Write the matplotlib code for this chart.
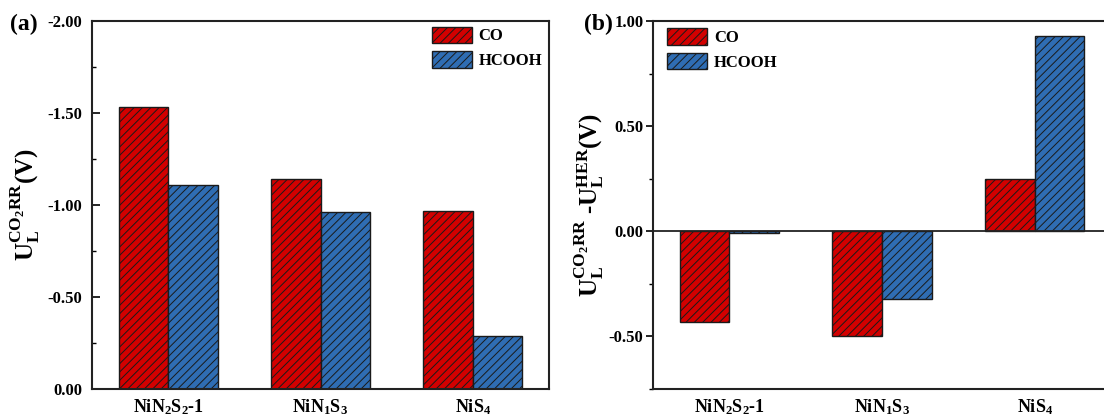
import matplotlib
matplotlib.use("Agg")
import matplotlib.pyplot as plt
import numpy as np
from matplotlib.ticker import MultipleLocator, FormatStrFormatter
from matplotlib.patches import Patch

plt.rcParams['font.family'] = ['Liberation Serif', 'DejaVu Serif']
plt.rcParams['font.weight'] = 'bold'
plt.rcParams['axes.unicode_minus'] = False
plt.rcParams['mathtext.fontset'] = 'custom'
plt.rcParams['mathtext.rm'] = 'Liberation Serif:bold'
plt.rcParams['mathtext.it'] = 'Liberation Serif:bold'
plt.rcParams['mathtext.bf'] = 'Liberation Serif:bold'
plt.rcParams['hatch.linewidth'] = 0.7

categories = [r'NiN$_2$S$_2$-1', r'NiN$_1$S$_3$', r'NiS$_4$']
series_names = ['CO', 'HCOOH']
ul_co = [-1.53, -1.14, -0.97]
ul_hcooh = [-1.11, -0.96, -0.29]
diff_co = [-0.43, -0.50, 0.25]
diff_hcooh = [-0.01, -0.32, 0.93]

red = '#D30000'
blue = '#2F6DB3'
edge = '#1a1a1a'

W, H = 1104, 419
fig = plt.figure(figsize=(W / 100, H / 100), dpi=100)

def px_axes(x0, x1, y0, y1):
    return fig.add_axes([x0 / W, 1 - y1 / H, (x1 - x0) / W, (y1 - y0) / H])

ax1 = px_axes(92, 549, 21, 389)
ax2 = px_axes(653, 1111, 21, 389)

x = np.arange(len(categories))
bw = 0.325

def draw(ax, v1, v2):
    ax.bar(x - bw / 2, v1, bw, color=red, edgecolor=edge, linewidth=1.0, hatch='////')
    ax.bar(x + bw / 2, v2, bw, color=blue, edgecolor=edge, linewidth=1.0, hatch='////')
    ax.set_xlim(-0.5, 2.5)
    ax.set_xticks(x)
    ax.set_xticklabels(categories, fontsize=13, fontweight='bold')
    ax.tick_params(axis='x', length=0, pad=6)
    ax.yaxis.set_major_formatter(FormatStrFormatter('%.2f'))
    for s in ax.spines.values():
        s.set_linewidth(1.5)
        s.set_color('#222222')

# Panel (a)
draw(ax1, ul_co, ul_hcooh)
ax1.set_ylim(0, -2.0)
ax1.yaxis.set_major_locator(MultipleLocator(0.5))
ax1.yaxis.set_minor_locator(MultipleLocator(0.25))
ax1.tick_params(axis='y', which='major', direction='in', length=6, width=1.2, labelsize=12, pad=7)
ax1.tick_params(axis='y', which='minor', direction='in', length=3, width=1.0)
ax1.set_ylabel(r'$\mathrm{U_L^{CO_2RR}}$(V)', fontsize=18, fontweight='bold', labelpad=4)

# Panel (b)
draw(ax2, diff_co, diff_hcooh)
ax2.set_ylim(-0.75, 1.0)
ax2.axhline(0, color='#222222', linewidth=1.3)
ax2.yaxis.set_major_locator(MultipleLocator(0.5))
ax2.yaxis.set_minor_locator(MultipleLocator(0.25))
ax2.tick_params(axis='y', which='major', direction='out', length=5, width=1.2, labelsize=12, pad=2)
ax2.tick_params(axis='y', which='minor', direction='out', length=3, width=1.0)
ax2.set_ylabel(r'$\mathrm{U_L^{CO_2RR}}$ -$\mathrm{U_L^{HER}}$(V)', fontsize=18, fontweight='bold', labelpad=2)

for ax in (ax1, ax2):
    for lab in ax.get_yticklabels():
        lab.set_fontweight('bold')

handles = [Patch(facecolor=red, edgecolor=edge, hatch='////', linewidth=1.0),
           Patch(facecolor=blue, edgecolor=edge, hatch='////', linewidth=1.0)]
leg_kw = dict(frameon=False, handlelength=2.4, handleheight=1.15,
              labelspacing=0.4, handletextpad=0.4, borderpad=0, borderaxespad=0,
              prop={'weight': 'bold', 'size': 12})
ax1.legend(handles, series_names, loc='upper left', bbox_to_anchor=(0.744, 0.985), **leg_kw)
ax2.legend(handles, series_names, loc='upper left', bbox_to_anchor=(0.031, 0.98), **leg_kw)

fig.text(10 / W, 1 - 30 / H, '(a)', fontsize=17, fontweight='bold')
fig.text(584 / W, 1 - 30 / H, '(b)', fontsize=17, fontweight='bold')

fig.savefig('out.png', dpi=100)
